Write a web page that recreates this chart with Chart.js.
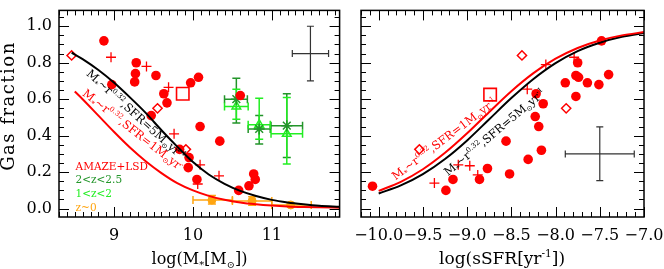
<!DOCTYPE html>
<html>
<head>
<meta charset="utf-8">
<script src="https://cdn.jsdelivr.net/npm/chart.js@4.4.1/dist/chart.umd.min.js"></script>
<style>
    body { margin: 0; background: #fff; }
    #wrap { position: relative; width: 664px; height: 269px; }
    #leftBox { position: absolute; left: 0; top: 0; }
    #rightBox { position: absolute; left: 350px; top: 0; }
</style>
</head>
<body>
<div id="wrap">
    <div id="leftBox"><canvas id="massChart" width="350" height="269"></canvas></div>
    <div id="rightBox"><canvas id="ssfrChart" width="314" height="269"></canvas></div>
</div>
<script>
// ---- left panel: gas fraction vs log stellar mass ----
const massCircleX = [8.87, 9.28, 9.27, 9.26, 9.53, 8.97, 10.07, 9.97, 9.63, 9.67, 10.60, 9.47, 10.09, 10.34, 9.83, 9.95, 9.94, 10.05, 10.71, 10.58, 10.77, 10.79];
const massCircleY = [0.92, 0.80, 0.74, 0.695, 0.73, 0.68, 0.72, 0.69, 0.63, 0.58, 0.62, 0.51, 0.45, 0.37, 0.325, 0.28, 0.225, 0.16, 0.125, 0.10, 0.19, 0.16];
const massPlusX = [8.96, 9.41, 9.69, 9.76, 10.09, 10.33, 10.06];
const massPlusY = [0.83, 0.78, 0.665, 0.41, 0.24, 0.18, 0.135];
const massDiamondX = [8.46, 9.55, 9.91];
const massDiamondY = [0.84, 0.55, 0.325];
const massSquareX = [9.87];
const massSquareY = [0.63];

// model curves (SFR = 5 and 1 Msun/yr)
const curveMass5X = [8.46, 8.6, 8.8, 9.0, 9.2, 9.4, 9.6, 9.8, 10.0, 10.2, 10.4, 10.6, 10.8, 11.0, 11.2, 11.4, 11.6, 11.86];
const curveMass5Y = [0.855, 0.82, 0.76, 0.69, 0.61, 0.525, 0.43, 0.34, 0.255, 0.187, 0.136, 0.097, 0.069, 0.048, 0.034, 0.024, 0.016, 0.010];
const curveMass1X = [8.5, 8.6, 8.8, 9.0, 9.2, 9.4, 9.6, 9.8, 10.0, 10.2, 10.4, 10.6, 10.8, 11.0, 11.2, 11.4, 11.6, 11.86];
const curveMass1Y = [0.642, 0.60, 0.51, 0.42, 0.335, 0.26, 0.195, 0.14, 0.10, 0.07, 0.049, 0.034, 0.024, 0.017, 0.012, 0.009, 0.007, 0.005];

// comparison samples
const zHighX = [10.55, 10.84, 11.19];
const zHighY = [0.60, 0.437, 0.455];
const zHighXErr = [[10.40, 10.69], [10.70, 10.98], [10.99, 11.39]];
const zHighYErr = [[0.47, 0.715], [0.355, 0.51], [0.28, 0.63]];
const zMidX = [10.55, 10.84, 11.19];
const zMidY = [0.56, 0.46, 0.41];
const zMidXErr = [[10.40, 10.70], [10.70, 10.98], [10.99, 11.39]];
const zMidYErr = [[0.49, 0.655], [0.38, 0.605], [0.245, 0.61]];
const zLocalX = [10.24, 10.75, 11.24];
const zLocalY = [0.047, 0.042, 0.02];
const zLocalXErr = [[10.0, 10.5], [10.5, 11.0], [11.0, 11.5]];
const zLocalYErr = [[0.025, 0.072], [0.018, 0.065], [0.012, 0.03]];

// typical error
const massErrX = [11.49];
const massErrY = [0.85];
const massErrXErr = [[11.26, 11.72]];
const massErrYErr = [[0.70, 1.0]];

// ---- right panel: gas fraction vs log sSFR ----
const ssfrCircleX = [-10.07, -9.24, -9.16, -8.86, -8.77, -8.52, -8.56, -8.31, -8.16, -8.19, -8.23, -8.22, -8.14, -7.89, -7.77, -7.77, -7.74, -7.75, -7.64, -7.51, -7.40, -7.48];
const ssfrCircleY = [0.123, 0.10, 0.16, 0.16, 0.22, 0.19, 0.37, 0.27, 0.32, 0.45, 0.505, 0.63, 0.575, 0.69, 0.615, 0.73, 0.72, 0.80, 0.69, 0.68, 0.735, 0.92];
const ssfrPlusX = [-9.37, -9.10, -8.97, -8.88, -8.32, -8.11, -7.79];
const ssfrPlusY = [0.14, 0.24, 0.235, 0.185, 0.655, 0.79, 0.83];
const ssfrDiamondX = [-8.38, -7.88, -9.54];
const ssfrDiamondY = [0.84, 0.55, 0.325];
const ssfrSquareX = [-8.74];
const ssfrSquareY = [0.625];

const curveSsfrX = [-10.0, -9.75, -9.5, -9.25, -9.0, -8.75, -8.5, -8.25, -8.0, -7.75, -7.5, -7.25, -7.0];
const curveSsfr1Y = [0.097, 0.147, 0.216, 0.306, 0.413, 0.53, 0.644, 0.743, 0.822, 0.881, 0.922, 0.95, 0.968];
const curveSsfr5Y = [0.083, 0.127, 0.189, 0.272, 0.374, 0.49, 0.606, 0.711, 0.798, 0.864, 0.91, 0.942, 0.963];

const ssfrErrX = [-7.50];
const ssfrErrY = [0.30];
const ssfrErrXErr = [[-7.89, -7.11]];
const ssfrErrYErr = [[0.153, 0.448]];

// tick labels
const massTicks = [9, 10, 11];
const fracTicks = [0.0, 0.2, 0.4, 0.6, 0.8, 1.0];
const ssfrTicks = [-10.0, -9.5, -9.0, -8.5, -8.0, -7.5, -7.0];

const RED = "#ff0000";
const DKGREEN = "#23952a";
const LTGREEN = "#22ee22";
const ORANGE = "#ffa510";
const FONT = "'DejaVu Serif', 'Liberation Serif', serif";

function pts(xs, ys) {
    return xs.map((x, i) => ({ x: x, y: ys[i] }));
}

// draws text with sub (-1) / superscript (1) parts, y is the baseline
function drawRich(ctx, parts, x, y, size, color, align) {
    const fontFor = m => (m === 0 ? size : size * 0.62) + "px " + FONT;
    let total = 0;
    parts.forEach(p => { ctx.font = fontFor(p[1]); total += ctx.measureText(p[0]).width; });
    let cx = align === "center" ? x - total / 2 : x;
    ctx.fillStyle = color;
    ctx.textAlign = "left";
    ctx.textBaseline = "alphabetic";
    parts.forEach(p => {
        ctx.font = fontFor(p[1]);
        const dy = p[1] === 1 ? -size * 0.42 : (p[1] === -1 ? size * 0.22 : 0);
        ctx.fillText(p[0], cx, y + dy);
        cx += ctx.measureText(p[0]).width;
    });
}

function curveLabel(chart, parts, xv, yv, angle, color) {
    const ctx = chart.ctx;
    const px = chart.scales.x.getPixelForValue(xv);
    const py = chart.scales.y.getPixelForValue(yv);
    ctx.save();
    ctx.translate(px, py);
    ctx.rotate(angle * Math.PI / 180);
    drawRich(ctx, parts, 0, 0, 11.5, color, "left");
    ctx.restore();
}

function labelParts(sfr) {
    return [["M", 0], ["*", -1], ["~r", 0], ["0.32", 1], [",SFR=" + sfr + "M", 0], ["\u2299", -1], ["yr", 0], ["-1", 1]];
}

// error bars with caps, read from dataset.errX / dataset.errY
const errorBars = {
    id: "errorBars",
    beforeDatasetsDraw(chart) {
        const ctx = chart.ctx, sx = chart.scales.x, sy = chart.scales.y;
        chart.data.datasets.forEach(ds => {
            if (!ds.errX) return;
            ctx.save();
            ctx.strokeStyle = ds.errColor;
            ctx.lineWidth = ds.errWidth || 1.5;
            const cap = ds.errCap || 4;
            ds.data.forEach((p, i) => {
                const px = sx.getPixelForValue(p.x), py = sy.getPixelForValue(p.y);
                const x0 = sx.getPixelForValue(ds.errX[i][0]), x1 = sx.getPixelForValue(ds.errX[i][1]);
                const y0 = sy.getPixelForValue(ds.errY[i][0]), y1 = sy.getPixelForValue(ds.errY[i][1]);
                ctx.beginPath();
                ctx.moveTo(x0, py); ctx.lineTo(x1, py);
                ctx.moveTo(x0, py - cap); ctx.lineTo(x0, py + cap);
                ctx.moveTo(x1, py - cap); ctx.lineTo(x1, py + cap);
                ctx.moveTo(px, y0); ctx.lineTo(px, y1);
                ctx.moveTo(px - cap, y0); ctx.lineTo(px + cap, y0);
                ctx.moveTo(px - cap, y1); ctx.lineTo(px + cap, y1);
                ctx.stroke();
            });
            ctx.restore();
        });
    }
};

// box frame with inward ticks on all four sides
const frameTicks = {
    id: "frameTicks",
    afterDraw(chart, args, opts) {
        const ctx = chart.ctx, a = chart.chartArea, sx = chart.scales.x, sy = chart.scales.y;
        ctx.save();
        ctx.strokeStyle = "#000";
        ctx.lineWidth = 1;
        ctx.beginPath();
        const mark = (scale, step, len, horiz) => {
            for (let k = Math.ceil(scale.min / step - 1e-6); k * step <= scale.max + 1e-9; k++) {
                const p = Math.round(scale.getPixelForValue(k * step)) + 0.5;
                if (horiz) {
                    ctx.moveTo(p, a.bottom); ctx.lineTo(p, a.bottom - len);
                    ctx.moveTo(p, a.top); ctx.lineTo(p, a.top + len);
                } else {
                    ctx.moveTo(a.left, p); ctx.lineTo(a.left + len, p);
                    ctx.moveTo(a.right, p); ctx.lineTo(a.right - len, p);
                }
            }
        };
        mark(sx, opts.xMinor, 5, true);
        mark(sx, opts.xMajor, 10, true);
        mark(sy, opts.yMinor, 5, false);
        mark(sy, opts.yMajor, 10, false);
        ctx.stroke();
        ctx.lineWidth = 1.5;
        ctx.strokeRect(a.left, a.top, a.right - a.left, a.bottom - a.top);
        ctx.restore();
    }
};

function pointSets(cx, cy, plx, ply, dx, dy, sqx, sqy) {
    return [
        { data: pts(cx, cy), pointStyle: "circle", pointRadius: 4.8, backgroundColor: RED, borderColor: RED, borderWidth: 0, order: 1 },
        { data: pts(plx, ply), pointStyle: "cross", pointRadius: 5, borderColor: RED, borderWidth: 1.3, order: 1 },
        { data: pts(dx, dy), pointStyle: "rectRot", pointRadius: 4.6, backgroundColor: "rgba(0,0,0,0)", borderColor: RED, borderWidth: 1.5, order: 1 },
        { data: pts(sqx, sqy), pointStyle: "rect", pointRadius: 8.8, backgroundColor: "rgba(0,0,0,0)", borderColor: RED, borderWidth: 1.6, order: 1 }
    ];
}

function curveSet(xs, ys, color) {
    return { data: pts(xs, ys), showLine: true, pointRadius: 0, borderColor: color, borderWidth: 2,
             cubicInterpolationMode: "monotone", order: 0 };
}

function baseScales(xMin, xMax, xTicks, xFmt, yWidth, showY) {
    return {
        x: {
            type: "linear", min: xMin, max: xMax,
            grid: { display: false, drawTicks: false }, border: { display: false },
            afterBuildTicks: s => { s.ticks = xTicks.map(v => ({ value: v })); },
            afterFit: s => { s.height = 52; s.paddingLeft = 0; s.paddingRight = 0; },
            ticks: { autoSkip: false, maxRotation: 0, minRotation: 0, padding: 9, color: "#000",
                     font: { family: FONT, size: 16 }, callback: xFmt }
        },
        y: {
            type: "linear", min: -0.046, max: 1.087,
            grid: { display: false, drawTicks: false }, border: { display: false },
            afterBuildTicks: s => { s.ticks = fracTicks.map(v => ({ value: v })); },
            afterFit: s => { s.width = yWidth; s.paddingTop = 0; s.paddingBottom = 0; },
            ticks: { display: showY, padding: 7, color: "#000", font: { family: FONT, size: 16 },
                     callback: v => v.toFixed(1) }
        }
    };
}

const massNotes = {
    id: "massNotes",
    afterDatasetsDraw(chart) {
        const ctx = chart.ctx;
        curveLabel(chart, labelParts(5), 8.64, 0.735, 42, "#000");
        curveLabel(chart, labelParts(1), 8.59, 0.624, 38, RED);
        const lx = chart.scales.x.getPixelForValue(8.51);
        const ly = chart.scales.y.getPixelForValue(0.228);
        const legend = [["AMAZE+LSD", RED], ["2<z<2.5", DKGREEN], ["1<z<2", LTGREEN], ["z~0", ORANGE]];
        ctx.save();
        ctx.font = "10.5px " + FONT;
        ctx.textAlign = "left";
        ctx.textBaseline = "middle";
        legend.forEach((l, i) => {
            ctx.fillStyle = l[1];
            ctx.fillText(l[0], lx, ly + i * 13.7);
        });
        // axis titles
        drawRich(ctx, [["log(M", 0], ["*", -1], ["[M", 0], ["\u2299", -1], ["])", 0]], 199.5, 264, 16, "#000", "center");
        ctx.translate(14, 106);
        ctx.rotate(-Math.PI / 2);
        ctx.letterSpacing = "1.5px";
        drawRich(ctx, [["Gas fraction", 0]], 0, 0, 18, "#000", "center");
        ctx.restore();
    }
};

const ssfrNotes = {
    id: "ssfrNotes",
    afterDatasetsDraw(chart) {
        const ctx = chart.ctx;
        curveLabel(chart, labelParts(1), -9.81, 0.154, -37, RED);
        curveLabel(chart, labelParts(5), -9.215, 0.177, -40, "#000");
        ctx.save();
        drawRich(ctx, [["log(sSFR[yr", 0], ["-1", 1], ["])", 0]], 152, 264, 17, "#000", "center");
        ctx.restore();
    }
};

new Chart(document.getElementById("massChart"), {
    type: "scatter",
    data: {
        datasets: [
            curveSet(curveMass5X, curveMass5Y, "#000"),
            curveSet(curveMass1X, curveMass1Y, RED),
            ...pointSets(massCircleX, massCircleY, massPlusX, massPlusY, massDiamondX, massDiamondY, massSquareX, massSquareY),
            { data: pts(zHighX, zHighY), pointStyle: "star", pointRadius: 5.5, borderColor: DKGREEN, borderWidth: 1.5,
              errX: zHighXErr, errY: zHighYErr, errColor: DKGREEN, errCap: 4, order: 2 },
            { data: pts(zMidX, zMidY), pointStyle: "triangle", pointRadius: 5, backgroundColor: "rgba(0,0,0,0)", borderColor: LTGREEN, borderWidth: 1.5,
              errX: zMidXErr, errY: zMidYErr, errColor: LTGREEN, errCap: 4, order: 3 },
            { data: pts(zLocalX, zLocalY), pointStyle: "circle", pointRadius: 4, backgroundColor: ORANGE, borderColor: ORANGE,
              errX: zLocalXErr, errY: zLocalYErr, errColor: ORANGE, errCap: 4, order: 2 },
            { data: pts(massErrX, massErrY), pointRadius: 0, errX: massErrXErr, errY: massErrYErr, errColor: "#333", errWidth: 1.2, errCap: 3.5, order: 2 }
        ]
    },
    options: {
        responsive: false,
        animation: false,
        layout: { padding: { left: 0, top: 2.5, right: 10, bottom: 0 } },
        plugins: {
            legend: { display: false }, tooltip: { enabled: false },
            frameTicks: { xMajor: 1, xMinor: 0.1, yMajor: 0.2, yMinor: 0.05 }
        },
        scales: baseScales(8.3, 11.86, massTicks, v => String(v), 59, true)
    },
    plugins: [errorBars, frameTicks, massNotes]
});

new Chart(document.getElementById("ssfrChart"), {
    type: "scatter",
    data: {
        datasets: [
            curveSet(curveSsfrX, curveSsfr1Y, RED),
            curveSet(curveSsfrX, curveSsfr5Y, "#000"),
            ...pointSets(ssfrCircleX, ssfrCircleY, ssfrPlusX, ssfrPlusY, ssfrDiamondX, ssfrDiamondY, ssfrSquareX, ssfrSquareY),
            { data: pts(ssfrErrX, ssfrErrY), pointRadius: 0, errX: ssfrErrXErr, errY: ssfrErrYErr, errColor: "#333", errWidth: 1.2, errCap: 3.5, order: 2 }
        ]
    },
    options: {
        responsive: false,
        animation: false,
        layout: { padding: { left: 0, top: 2.5, right: 20, bottom: 0 } },
        plugins: {
            legend: { display: false }, tooltip: { enabled: false },
            frameTicks: { xMajor: 0.5, xMinor: 0.1, yMajor: 0.2, yMinor: 0.05 }
        },
        scales: baseScales(-10.2, -7.0, ssfrTicks, v => (v < 0 ? "\u2212" : "") + Math.abs(v).toFixed(1), 11, false)
    },
    plugins: [errorBars, frameTicks, ssfrNotes]
});
</script>
</body>
</html>
